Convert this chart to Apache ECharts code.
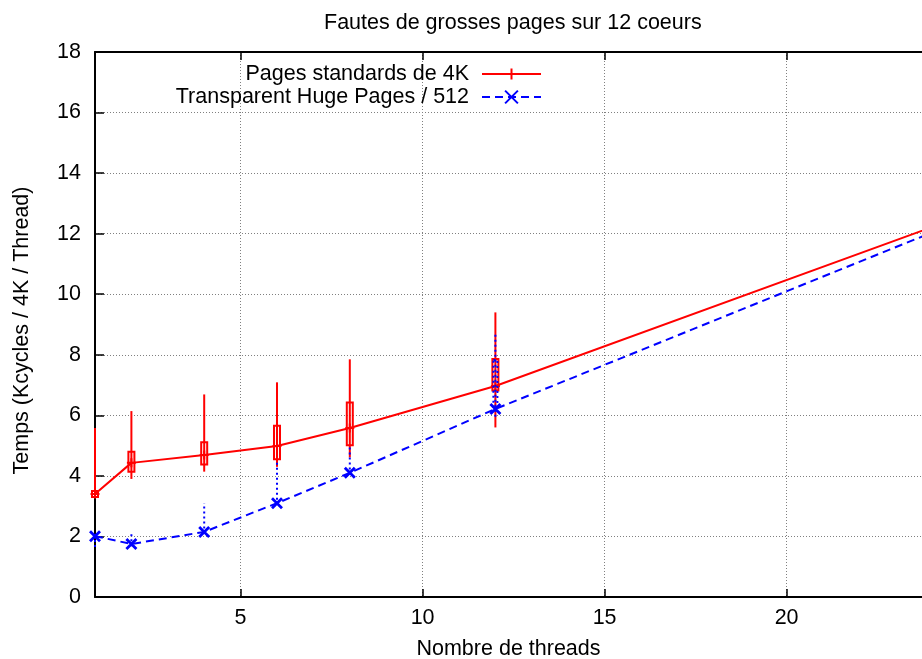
<!DOCTYPE html>
<html>
<head>
<meta charset="utf-8">
<script src="https://cdn.jsdelivr.net/npm/echarts@6/dist/echarts.min.js"></script>
<style>html,body{margin:0;padding:0;background:#fff}#c{width:922px;height:659px}</style>
</head>
<body>
<div id="c"></div>
<script>
const titleText = 'Fautes de grosses pages sur 12 coeurs';
const xName = 'Nombre de threads';
const yName = 'Temps (Kcycles / 4K / Thread)';
const seriesNames = ['Pages standards de 4K', 'Transparent Huge Pages / 512'];
const xTicks = [5, 10, 15, 20];

const threads = [1, 2, 4, 6, 8, 12, 24];
const pages4k = [3.4, 4.43, 4.69, 4.99, 5.58, 6.97, 12.22];
const thp512 = [2.01, 1.75, 2.15, 3.1, 4.1, 6.21, 12.04];

const barThreads = [1, 2, 4, 6, 8, 12];
const pages4kLow  = [3.3, 3.9, 4.14, 4.3, 4.61, 5.6];
const pages4kQ1   = [3.3, 4.14, 4.38, 4.55, 5.01, 6.82];
const pages4kQ3   = [3.5, 4.8, 5.11, 5.66, 6.42, 7.86];
const pages4kHigh = [5.58, 6.14, 6.69, 7.09, 7.85, 9.4];
const thpLow  = [1.65, 1.68, 2.1, 3.05, 4.05, 5.95];
const thpQ1   = [2.01, 1.75, 2.15, 3.1, 4.1, 6.18];
const thpQ3   = [2.01, 1.75, 2.15, 3.1, 4.1, 7.83];
const thpHigh = [2.1, 2.1, 3.1, 4.5, 5.0, 8.72];

const FONT = 'Liberation Sans';
const FS = 21.5;
const RED = '#ff0000';
const BLUE = '#0000ff';

function zip(xs, ys) { return xs.map((x, i) => [x, ys[i]]); }
function boxData(lo, q1, q3, hi) { return barThreads.map((x, i) => [x, lo[i], q1[i], q3[i], hi[i]]); }

function makeBoxRenderer(color, dash, boxW, lw) {
  return function (params, api) {
    const x = api.value(0);
    const lo = api.coord([x, api.value(1)]);
    const q1 = api.coord([x, api.value(2)]);
    const q3 = api.coord([x, api.value(3)]);
    const hi = api.coord([x, api.value(4)]);
    const children = [{
      type: 'line',
      shape: { x1: lo[0], y1: lo[1], x2: hi[0], y2: hi[1] },
      style: { stroke: color, lineWidth: lw, lineDash: dash, fill: null }
    }];
    if (api.value(2) !== api.value(3)) {
      children.push({
        type: 'rect',
        shape: { x: q3[0] - boxW / 2, y: q3[1], width: boxW, height: q1[1] - q3[1] },
        style: { stroke: color, lineWidth: lw, lineDash: dash, fill: null }
      });
    }
    return { type: 'group', children };
  };
}

const chart = echarts.init(document.getElementById('c'), null, { renderer: 'canvas' });
const xCommon = { type: 'value', min: 1, max: 23.72 };
chart.setOption({
  animation: false,
  backgroundColor: '#fff',
  textStyle: { fontFamily: FONT },
  title: {
    text: titleText, left: 324, top: 12, padding: 0,
    textStyle: { fontFamily: FONT, fontSize: FS, fontWeight: 'normal', color: '#000' }
  },
  grid: { left: 95, right: 0, top: 52, bottom: 62, containLabel: false, outerBoundsMode: 'none' },
  legend: [
    {
      data: [seriesNames[0]], orient: 'horizontal', right: 380, top: 63, align: 'right',
      itemWidth: 59, itemHeight: 14, padding: 0,
      textStyle: { fontFamily: FONT, fontSize: FS, color: '#000', padding: [0, 8, 0, 0] }
    },
    {
      data: [seriesNames[1]], orient: 'horizontal', right: 380, top: 86, align: 'right',
      itemWidth: 59, itemHeight: 16, padding: 0,
      textStyle: { fontFamily: FONT, fontSize: FS, color: '#000', padding: [0, 8, 0, 0] }
    }
  ],
  xAxis: [
    Object.assign({}, xCommon, {
      position: 'bottom',
      name: xName, nameLocation: 'middle', nameGap: 41,
      nameTextStyle: { fontFamily: FONT, fontSize: FS, color: '#000' },
      axisLine: { show: true, onZero: false, lineStyle: { color: '#000', width: 2 } },
      axisTick: { show: true, inside: true, length: 8, customValues: xTicks, lineStyle: { color: '#000', width: 1.5 } },
      axisLabel: { show: true, customValues: xTicks, margin: 10, fontFamily: FONT, fontSize: FS, color: '#000' },
      splitLine: { show: true, lineStyle: { color: '#808080', width: 1, type: [1, 2] } }
    }),
    Object.assign({}, xCommon, {
      position: 'top',
      axisLine: { show: true, onZero: false, lineStyle: { color: '#000', width: 2 } },
      axisTick: { show: true, inside: true, length: 8, customValues: xTicks, lineStyle: { color: '#000', width: 1.5 } },
      axisLabel: { show: false },
      splitLine: { show: false }
    })
  ],
  yAxis: {
    type: 'value', min: 0, max: 18, interval: 2,
    name: yName, nameLocation: 'middle', nameGap: 62, nameRotate: 90,
    nameTextStyle: { fontFamily: FONT, fontSize: FS, color: '#000', padding: [0, 12, 0, 0] },
    axisLine: { show: true, onZero: false, lineStyle: { color: '#000', width: 2 } },
    axisTick: { show: true, inside: true, length: 9, lineStyle: { color: '#000', width: 1.5 } },
    axisLabel: { margin: 14, fontFamily: FONT, fontSize: FS, color: '#000' },
    splitLine: { show: true, lineStyle: { color: '#808080', width: 1, type: [1, 2] } }
  },
  series: [
    {
      name: seriesNames[0], type: 'line', xAxisIndex: 0, data: zip(threads, pages4k), clip: false,
      symbol: 'path://M0,5L10,5M5,0L5,10', symbolSize: 9, showAllSymbol: true,
      lineStyle: { color: RED, width: 2 },
      itemStyle: { color: RED, borderColor: RED, borderWidth: 2 },
      z: 3
    },
    {
      name: 'box4k', type: 'custom', xAxisIndex: 0, clip: false,
      data: boxData(pages4kLow, pages4kQ1, pages4kQ3, pages4kHigh),
      encode: { x: 0, y: [1, 2, 3, 4] },
      renderItem: makeBoxRenderer(RED, null, 6, 2),
      z: 3
    },
    {
      name: seriesNames[1], type: 'line', xAxisIndex: 0, data: zip(threads, thp512), clip: false,
      symbol: 'path://M0,0L10,10M0,10L10,0', symbolSize: 10, showAllSymbol: true,
      lineStyle: { color: BLUE, width: 2, type: [8, 5] },
      itemStyle: { color: BLUE, borderColor: BLUE, borderWidth: 2.8 },
      z: 4
    },
    {
      name: 'boxthp', type: 'custom', xAxisIndex: 0, clip: false,
      data: boxData(thpLow, thpQ1, thpQ3, thpHigh),
      encode: { x: 0, y: [1, 2, 3, 4] },
      renderItem: makeBoxRenderer(BLUE, [2, 3], 4, 2),
      z: 4
    }
  ]
});
</script>
</body>
</html>
